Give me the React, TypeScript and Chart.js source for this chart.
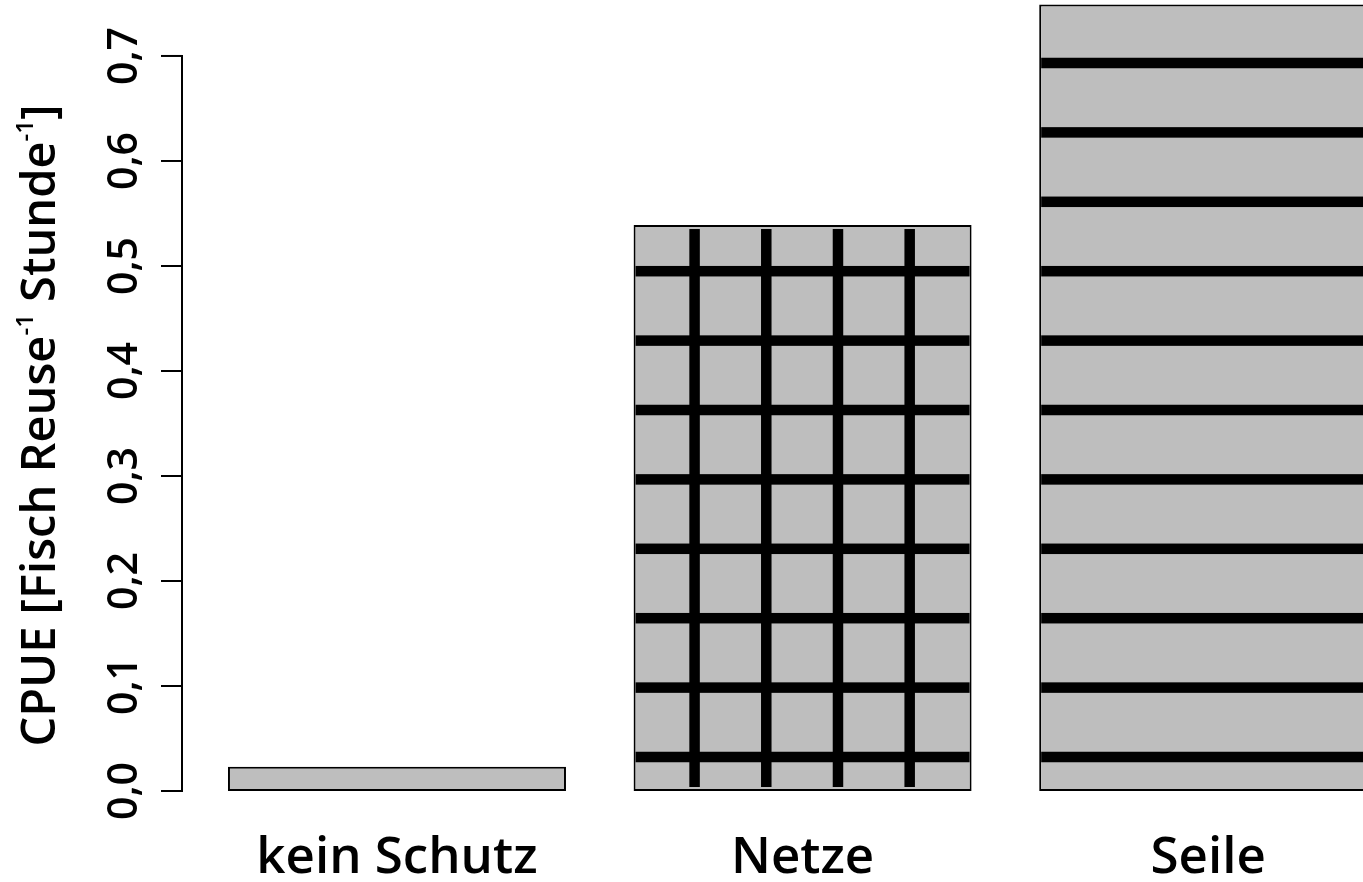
import React, { useEffect, useRef } from "react";
import { Chart, registerables } from "chart.js";

Chart.register(...registerables);

// ---- data ----
const categories: string[] = ["kein Schutz", "Netze", "Seile"];
const cpueValues: number[] = [0.023, 0.539, 0.749];
const hatchTypes: string[] = ["none", "grid", "horizontal"];
const yTickValues: number[] = [0, 0.1, 0.2, 0.3, 0.4, 0.5, 0.6, 0.7];
const yTickLabels: string[] = ["0,0", "0,1", "0,2", "0,3", "0,4", "0,5", "0,6", "0,7"];
// y-axis title: [text, isSuperscript]
const yTitleParts: [string, boolean][] = [
  ["CPUE [Fisch Reuse", false],
  ["-1", true],
  [" Stunde", false],
  ["-1", true],
  ["]", false],
];

// ---- layout (R barplot style: width 1, space 0.2) ----
const BAR_WIDTH = 1;
const BAR_SPACE = 0.2;
const barCenters = categories.map(
  (_, i) => BAR_SPACE + BAR_WIDTH / 2 + i * (BAR_WIDTH + BAR_SPACE)
);

const FONT = '"Open Sans", "DejaVu Sans", sans-serif';
const WEIGHT = 600;
const W = 1363;
const H = 882;

const hatchPlugin = {
  id: "hatch",
  afterDatasetsDraw(chart: any) {
    const ctx = chart.ctx as CanvasRenderingContext2D;
    const meta = chart.getDatasetMeta(0);
    const LW = 10.5;
    const STEP_H = 69.4;
    const OFFSET_H = 34;
    const STEP_V = 71.7;
    const OFFSET_V = 61;
    meta.data.forEach((el: any, i: number) => {
      const type = hatchTypes[i];
      if (type === "none") return;
      const { x, y, base, width } = el.getProps(["x", "y", "base", "width"], true);
      const left = x - width / 2;
      const right = x + width / 2;
      const top = Math.min(y, base);
      const bottom = Math.max(y, base);
      ctx.save();
      ctx.beginPath();
      ctx.rect(left + 2, top + 2, width - 4, bottom - top - 4);
      ctx.clip();
      ctx.fillStyle = "#000";
      for (let yy = bottom - OFFSET_H; yy > top; yy -= STEP_H) {
        ctx.fillRect(left, yy - LW / 2, width, LW);
      }
      if (type === "grid") {
        for (let xx = left + OFFSET_V; xx < right - 20; xx += STEP_V) {
          ctx.fillRect(xx - LW / 2, top + 4, LW, bottom - top - 8);
        }
      }
      ctx.restore();
    });
  },
};

const axesPlugin = {
  id: "rAxes",
  afterDraw(chart: any) {
    const ctx = chart.ctx as CanvasRenderingContext2D;
    const ys = chart.scales.y;
    const xs = chart.scales.x;
    const axisX = chart.chartArea.left;
    const y0 = ys.getPixelForValue(yTickValues[0]);
    const y1 = ys.getPixelForValue(yTickValues[yTickValues.length - 1]);
    ctx.save();
    ctx.strokeStyle = "#000";
    ctx.fillStyle = "#000";
    ctx.lineWidth = 2;
    ctx.lineCap = "butt";
    // axis line
    ctx.beginPath();
    ctx.moveTo(axisX, y0 + 1);
    ctx.lineTo(axisX, y1 - 1);
    ctx.stroke();
    // ticks + labels
    ctx.font = `${WEIGHT} 41px ${FONT}`;
    ctx.textAlign = "center";
    ctx.textBaseline = "alphabetic";
    yTickValues.forEach((v, i) => {
      const py = ys.getPixelForValue(v);
      ctx.beginPath();
      ctx.moveTo(axisX, py);
      ctx.lineTo(axisX - 21, py);
      ctx.stroke();
      ctx.save();
      ctx.translate(axisX - 45, py);
      ctx.rotate(-Math.PI / 2);
      ctx.fillText(yTickLabels[i], 0, 0);
      ctx.restore();
    });
    // y title
    const mainFont = `${WEIGHT} 47px ${FONT}`;
    const supFont = `${WEIGHT} 24px ${FONT}`;
    let total = 0;
    const widths = yTitleParts.map(([t, sup]) => {
      ctx.font = sup ? supFont : mainFont;
      const w = ctx.measureText(t).width;
      total += w;
      return w;
    });
    ctx.save();
    ctx.translate(55, (y0 + y1) / 2 + 2);
    ctx.rotate(-Math.PI / 2);
    ctx.textAlign = "left";
    let cx = -total / 2;
    yTitleParts.forEach(([t, sup], i) => {
      ctx.font = sup ? supFont : mainFont;
      ctx.fillText(t, cx, sup ? -22 : 0);
      cx += widths[i];
    });
    ctx.restore();
    // x category labels
    ctx.font = `${WEIGHT} 51px ${FONT}`;
    ctx.textAlign = "center";
    ctx.textBaseline = "alphabetic";
    categories.forEach((c, i) => {
      ctx.fillText(c, xs.getPixelForValue(barCenters[i]), 873);
    });
    ctx.restore();
  },
};

export default function App() {
  const ref = useRef<HTMLCanvasElement | null>(null);
  useEffect(() => {
    document.body.style.overflow = "hidden";
    const canvas = ref.current;
    if (!canvas) return;
    const chart = new Chart(canvas, {
      type: "bar",
      data: {
        datasets: [
          {
            data: cpueValues.map((v, i) => ({ x: barCenters[i], y: v })),
            backgroundColor: "#bebebe",
            borderColor: "#000",
            borderWidth: 2,
            borderSkipped: false,
            barPercentage: BAR_WIDTH / (BAR_WIDTH + BAR_SPACE),
            categoryPercentage: 1,
          } as any,
        ],
      },
      options: {
        animation: false,
        responsive: false,
        devicePixelRatio: 1,
        layout: { padding: { left: 182, right: 0, top: 0, bottom: 91 } },
        plugins: {
          legend: { display: false },
          tooltip: { enabled: false },
          title: { display: false },
        },
        scales: {
          x: {
            type: "linear",
            display: false,
            offset: false,
            grid: { offset: false },
            min: 0.064,
            max: 3.558,
            afterBuildTicks: (scale: any) => {
              scale.ticks = barCenters.map((v) => ({ value: v }));
            },
          },
          y: {
            type: "linear",
            display: false,
            min: 0,
            max: 0.7533,
          },
        },
      },
      plugins: [hatchPlugin, axesPlugin],
    });
    return () => chart.destroy();
  }, []);
  return (
    <canvas
      ref={ref}
      width={W}
      height={H}
      style={{ position: "absolute", left: 0, top: 0, width: W, height: H, background: "#fff" }}
    />
  );
}
